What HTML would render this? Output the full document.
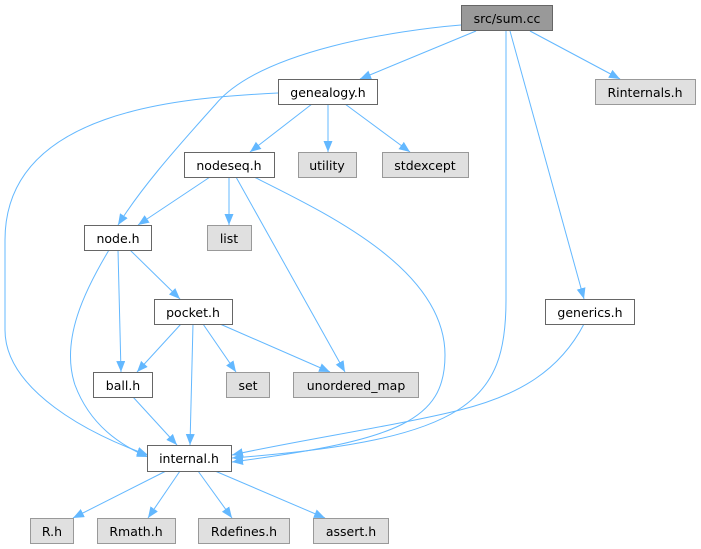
<!DOCTYPE html>
<html><head><meta charset="utf-8"><style>
html,body{margin:0;padding:0;background:#fff;}
svg{display:block;}
text{font-family:"DejaVu Sans","Liberation Sans",sans-serif;font-size:12.5px;fill:#000;}
</style></head><body>
<svg width="701" height="549" viewBox="0 0 701 549" xmlns="http://www.w3.org/2000/svg">
<defs>
<marker id="a" markerUnits="userSpaceOnUse" markerWidth="12" markerHeight="10" refX="11" refY="4.5" orient="auto">
<path d="M0,0 L11,4.5 L0,9 z" fill="#63b8ff"/>
</marker>
</defs>
<g fill="none" stroke="#63b8ff" stroke-width="1" marker-end="url(#a)">
<path d="M476,31 L360,79"/>
<path d="M530,31 L620,79"/>
<path d="M461,25 C400,30 260,50 215,105 C170,155 140,190 118,225"/>
<path d="M506,31 L506,300 C506,400 470,440 232,458"/>
<path d="M510,31 L584,299"/>
<path d="M278,93 C180,98 5,110 5,240 L5,330 C5,390 90,435 148,455"/>
<path d="M312,104 L250,152"/>
<path d="M328,104 L328,152"/>
<path d="M345,104 L410,152"/>
<path d="M210,177 L138,225"/>
<path d="M229,177 L229,225"/>
<path d="M236,177 L345,372"/>
<path d="M254,177 C330,215 445,270 445,355 C445,420 400,440 232,462"/>
<path d="M130,250 L180,299"/>
<path d="M118,250 L121,372"/>
<path d="M109,250 C85,290 60,340 75,385 C90,425 120,445 148,457"/>
<path d="M181,324 L137,372"/>
<path d="M193,324 L190,445"/>
<path d="M203,324 L236,372"/>
<path d="M220,324 L330,372"/>
<path d="M133,397 L177,445"/>
<path d="M584,324 C560,370 520,395 460,410 C400,425 300,440 232,455"/>
<path d="M166,471 L73,518"/>
<path d="M180,471 L148,518"/>
<path d="M198,471 L232,518"/>
<path d="M215,471 L325,518"/>
</g>
<g stroke-width="1">
<rect x="461.5" y="5.5" width="91" height="25" fill="#999" stroke="#666"/>
<rect x="278.5" y="79.5" width="99" height="25" fill="#fff" stroke="#666"/>
<rect x="595.5" y="79.5" width="100" height="25" fill="#e0e0e0" stroke="#999"/>
<rect x="184.5" y="152.5" width="90" height="25" fill="#fff" stroke="#666"/>
<rect x="298.5" y="152.5" width="58" height="25" fill="#e0e0e0" stroke="#999"/>
<rect x="382.5" y="152.5" width="86" height="25" fill="#e0e0e0" stroke="#999"/>
<rect x="84.5" y="225.5" width="67" height="25" fill="#fff" stroke="#666"/>
<rect x="207.5" y="225.5" width="44" height="25" fill="#e0e0e0" stroke="#999"/>
<rect x="154.5" y="299.5" width="78" height="25" fill="#fff" stroke="#666"/>
<rect x="545.5" y="299.5" width="89" height="25" fill="#fff" stroke="#666"/>
<rect x="93.5" y="372.5" width="59" height="25" fill="#fff" stroke="#666"/>
<rect x="226.5" y="372.5" width="43" height="25" fill="#e0e0e0" stroke="#999"/>
<rect x="293.5" y="372.5" width="125" height="25" fill="#e0e0e0" stroke="#999"/>
<rect x="147.5" y="445.5" width="84" height="26" fill="#fff" stroke="#666"/>
<rect x="30.5" y="518.5" width="43" height="25" fill="#e0e0e0" stroke="#999"/>
<rect x="97.5" y="518.5" width="78" height="25" fill="#e0e0e0" stroke="#999"/>
<rect x="198.5" y="518.5" width="91" height="25" fill="#e0e0e0" stroke="#999"/>
<rect x="313.5" y="518.5" width="75" height="25" fill="#e0e0e0" stroke="#999"/>
</g>
<g text-anchor="middle">
<text x="507" y="23">src/sum.cc</text>
<text x="328" y="97">genealogy.h</text>
<text x="645" y="97">Rinternals.h</text>
<text x="229" y="170">nodeseq.h</text>
<text x="327" y="170">utility</text>
<text x="425" y="170">stdexcept</text>
<text x="118" y="243">node.h</text>
<text x="229" y="243">list</text>
<text x="193" y="317">pocket.h</text>
<text x="590" y="317">generics.h</text>
<text x="123" y="390">ball.h</text>
<text x="248" y="390">set</text>
<text x="356" y="390">unordered_map</text>
<text x="189" y="463">internal.h</text>
<text x="52" y="536">R.h</text>
<text x="136" y="536">Rmath.h</text>
<text x="244" y="536">Rdefines.h</text>
<text x="351" y="536">assert.h</text>
</g>
</svg>
</body></html>
